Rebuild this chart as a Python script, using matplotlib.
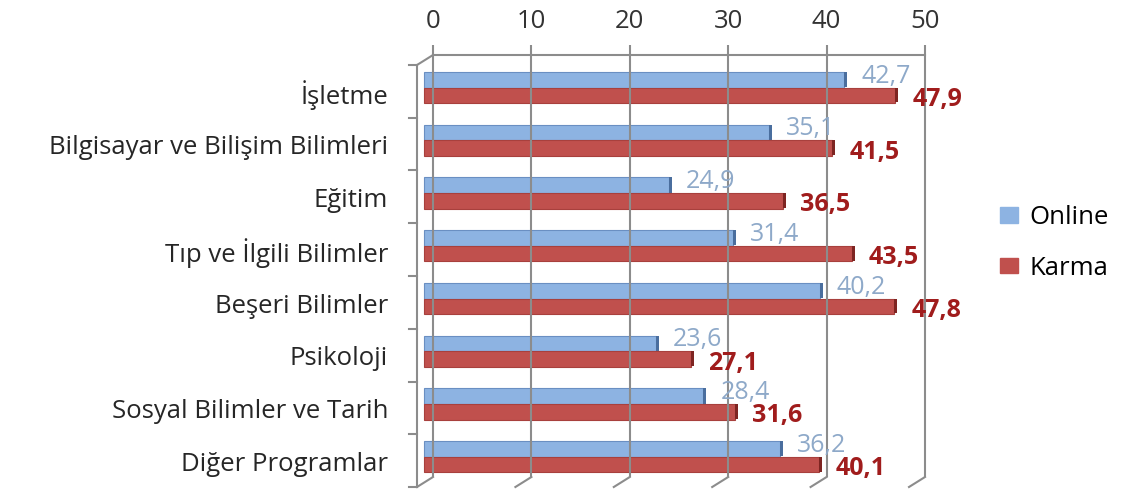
import matplotlib
matplotlib.use("Agg")
import matplotlib.pyplot as plt
import matplotlib.patches as mpatches

plt.rcParams["font.family"] = ["Open Sans", "DejaVu Sans"]

categories = [
    "İşletme",
    "Bilgisayar ve Bilişim Bilimleri",
    "Eğitim",
    "Tıp ve İlgili Bilimler",
    "Beşeri Bilimler",
    "Psikoloji",
    "Sosyal Bilimler ve Tarih",
    "Diğer Programlar",
]
online = [42.7, 35.1, 24.9, 31.4, 40.2, 23.6, 28.4, 36.2]
karma = [47.9, 41.5, 36.5, 43.5, 47.8, 27.1, 31.6, 40.1]
x_ticks = [0, 10, 20, 30, 40, 50]

BLUE = "#8DB3E2"
BLUE_EDGE = "#6A8FC2"
BLUE_SIDE = "#4A6E9E"
RED = "#C0504D"
RED_EDGE = "#A8403D"
RED_SIDE = "#7E2522"
GRID = "#8C8C8C"

W, H = 1127, 490
fig = plt.figure(figsize=(W / 100, H / 100), dpi=100)
# back wall of the pseudo-3D box
ax = fig.add_axes([433 / W, 13 / H, 492 / W, 422 / H])
ax.set_xlim(0, 50)
ax.set_ylim(len(categories), 0)

# data units per pixel, used for the depth offsets
ux = 50 / 492
uy = len(categories) / 422

for s in ax.spines.values():
    s.set_visible(False)
ax.plot([0, 50], [0, 0], color=GRID, lw=1.5, clip_on=False)
ax.vlines(x_ticks, 0, len(categories), color=GRID, lw=1.5, clip_on=False)

ax.xaxis.tick_top()
ax.set_xticks(x_ticks)
ax.set_xticklabels([str(t) for t in x_ticks], fontsize=18.5, color="#333333")
ax.tick_params(axis="x", length=7, width=1.5, color=GRID, pad=8)
ax.set_yticks([])

# left wall and floor, drawn one depth step in front of the back wall
dx, dy = -16 * ux, 10 * uy
n = len(categories)
ax.plot([dx, dx], [dy, n + dy], color=GRID, lw=1.5, clip_on=False)
ax.plot([dx, 0], [dy, 0], color=GRID, lw=1.5, clip_on=False)
for k in range(n + 1):
    ax.plot([dx - 8 * ux, dx], [k + dy, k + dy], color=GRID, lw=1.5, clip_on=False)
for t in x_ticks:
    ax.plot([t + dx, t], [n + dy, n], color=GRID, lw=1.5, clip_on=False)

# bars sit half way into the box
bx = -9 * ux
side = 3 * ux
for i, (o, k) in enumerate(zip(online, karma)):
    ax.barh(i + 0.47, o, height=0.30, left=bx, color=BLUE,
            edgecolor=BLUE_EDGE, lw=0.8, clip_on=False)
    ax.barh(i + 0.465, side, height=0.29, left=bx + o, color=BLUE_SIDE,
            lw=0, clip_on=False)
    ax.barh(i + 0.765, k, height=0.29, left=bx, color=RED,
            edgecolor=RED_EDGE, lw=0.8, clip_on=False)
    ax.barh(i + 0.76, side, height=0.28, left=bx + k, color=RED_SIDE,
            lw=0, clip_on=False)

    ax.text(o + 8 * ux, i + 0.40, f"{o:.1f}".replace(".", ","),
            fontsize=18, color="#8EA9C9", va="center", ha="left")
    ax.text(k + 8 * ux, i + 0.84, f"{k:.1f}".replace(".", ","),
            fontsize=18, color="#A01C1C", fontweight="bold",
            va="center", ha="left")

    ax.text(-45 * ux, i + 0.76, categories[i], fontsize=18.5,
            color="#262626", va="center", ha="right")

handles = [
    mpatches.Patch(color=BLUE, label="Online"),
    mpatches.Patch(color=RED, label="Karma"),
]
fig.legend(handles=handles, loc="upper left",
           bbox_to_anchor=(1000 / W, 1 - 205 / H), frameon=False,
           fontsize=18.5, handlelength=0.7, handleheight=0.55,
           handletextpad=0.45, labelspacing=1.0, borderpad=0,
           borderaxespad=0)

fig.savefig("out.png", dpi=100, facecolor="white")
